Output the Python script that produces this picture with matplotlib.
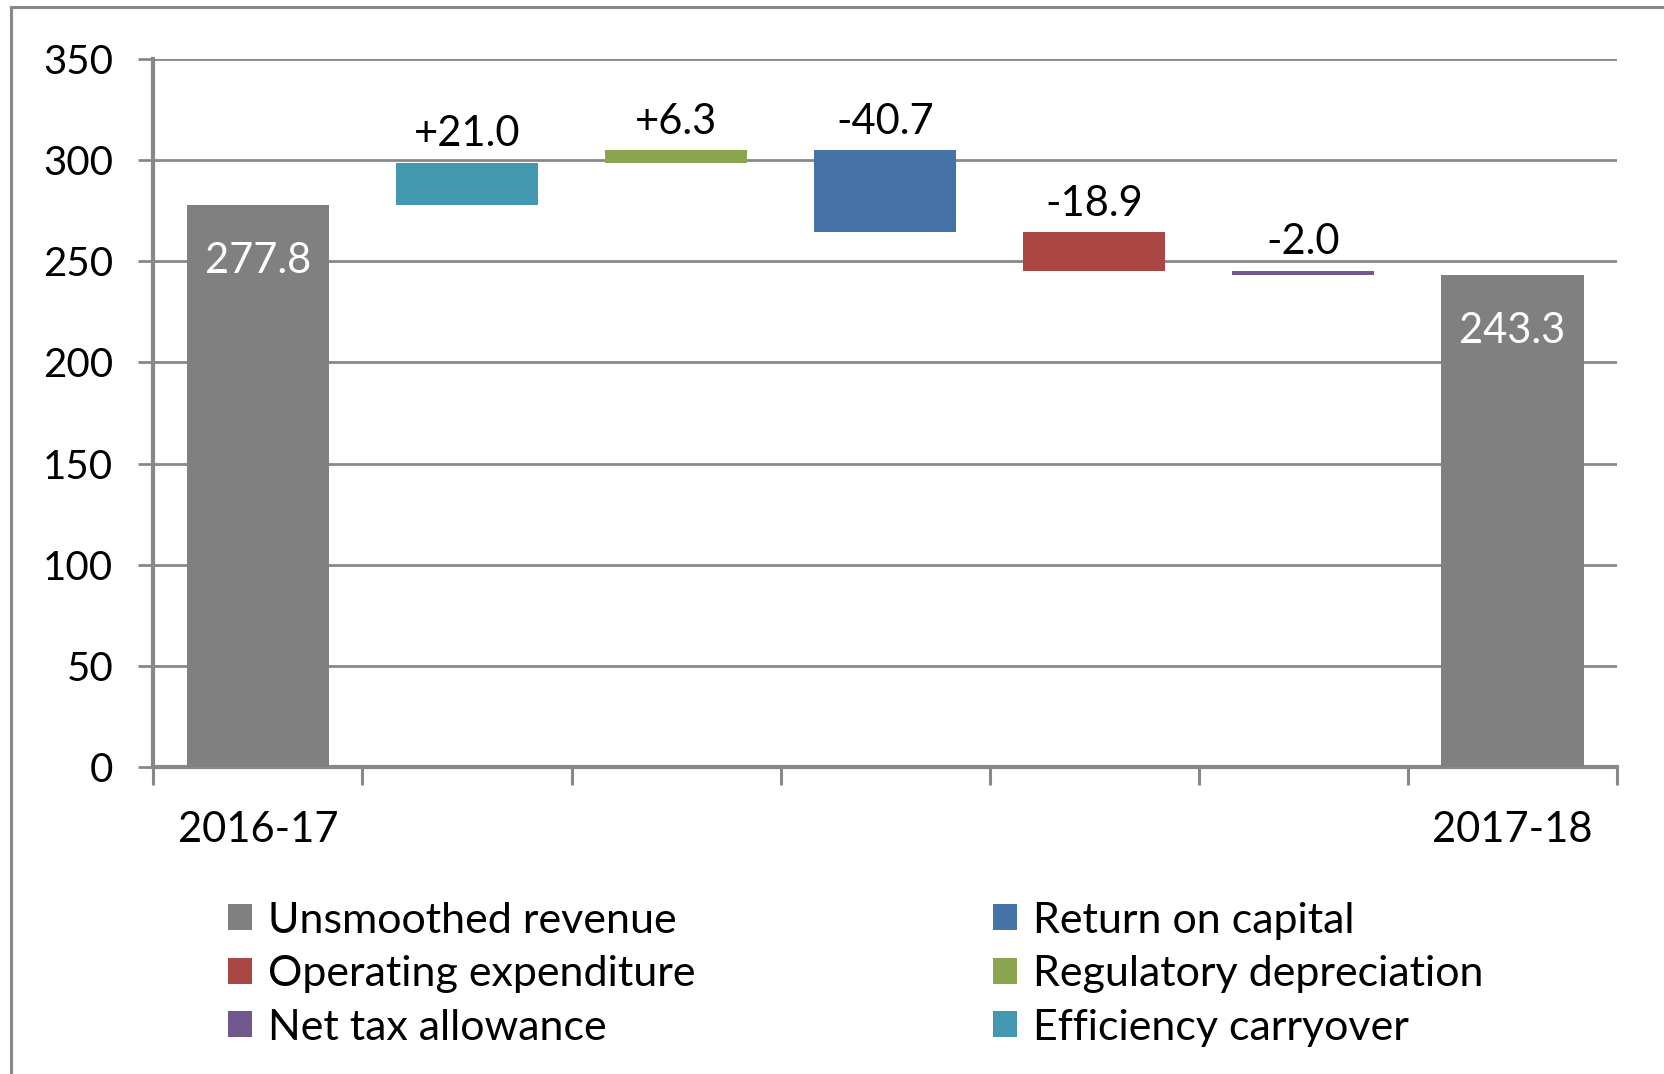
import numpy as np
import matplotlib
matplotlib.use('Agg')
import matplotlib.pyplot as plt
from matplotlib.patches import Patch
from matplotlib.lines import Line2D

plt.rcParams['font.family'] = ['Lato', 'DejaVu Sans']

## values
x_labels = ['2016-17', '', '', '', '', '', '2017-18']
start_value = 277.8
end_value = 243.3
total_name = 'Unsmoothed revenue'
step_names = ['Efficiency carryover', 'Regulatory depreciation', 'Return on capital',
              'Operating expenditure', 'Net tax allowance']
step_values = [21.0, 6.3, -40.7, -18.9, -2.0]
y_ticks = [0, 50, 100, 150, 200, 250, 300, 350]

## colours (excel 2007 palette)
total_color = '#808080'
step_colors = ['#4198AF', '#89A54E', '#4572A7', '#AA4643', '#71588F']
grid_col = '#888888'
legend_order = ['Unsmoothed revenue', 'Return on capital', 'Operating expenditure',
                'Regulatory depreciation', 'Net tax allowance', 'Efficiency carryover']

# ====================================================================
fig = plt.figure(figsize=(16.65, 10.74), dpi=100)
ax = fig.add_axes([0.0921, 0.2861, 0.9712 - 0.0921, 0.9448 - 0.2861])

bar_w = 0.68
n = len(x_labels)
xs = np.arange(n)

##start and end totals
ax.bar([xs[0], xs[-1]], [start_value, end_value], width=bar_w, color=total_color, zorder=3)
for xx, vv in [(xs[0], start_value), (xs[-1], end_value)]:
    ax.annotate('%.1f' % vv, (xx, vv), xytext=(0, -40), textcoords='offset points',
                ha='center', va='center', fontsize=30, color='white', zorder=4)

##floating steps
level = start_value
for i, (v, c) in enumerate(zip(step_values, step_colors)):
    lo = min(level, level + v)
    ax.bar(xs[i + 1], abs(v), bottom=lo, width=bar_w, color=c, zorder=3)
    ax.annotate('%+.1f' % v, (xs[i + 1], max(level, level + v)), xytext=(0, 20.5),
                textcoords='offset points', ha='center', va='center', fontsize=30)
    level += v

# ====================================================================
##axes styling
ax.set_xlim(-0.5, n - 0.5)
ax.set_ylim(0, 350)
ax.set_yticks(y_ticks)
ax.yaxis.grid(True, color=grid_col, lw=2)
ax.set_axisbelow(True)
for s in ['top', 'right']:
    ax.spines[s].set_visible(False)
for s in ['left', 'bottom']:
    ax.spines[s].set_color(grid_col)
    ax.spines[s].set_linewidth(3)

ax.set_xticks(xs, x_labels)
ax.set_xticks(np.arange(-0.5, n, 1), minor=True)
ax.tick_params(axis='x', which='major', length=0, pad=32, labelsize=30)
ax.tick_params(axis='x', which='minor', length=13, width=2.2, color=grid_col)
ax.tick_params(axis='y', length=11, width=2, color=grid_col, pad=18, labelsize=29)

##legend, two columns placed separately
color_map = dict(zip(step_names, step_colors))
color_map[total_name] = total_color
handles = [Patch(facecolor=color_map[nm], edgecolor='none') for nm in legend_order]
col_x = [228 / 1665, 993 / 1665]
for k in range(2):
    hh = handles[k::2]
    ll = legend_order[k::2]
    fig.legend(hh, ll, loc='upper left', bbox_to_anchor=(col_x[k], 0.1605),
               frameon=False, fontsize=31, handlelength=0.55, handleheight=0.55,
               handletextpad=0.38, labelspacing=0.36, borderpad=0, borderaxespad=0)

##outer frame (left and top only, rest cropped)
fx = 11 / 1665
fy = 1 - 7 / 1074
fig.add_artist(Line2D([fx, fx], [0, fy], transform=fig.transFigure, color=grid_col, lw=2.2))
fig.add_artist(Line2D([fx, 1], [fy, fy], transform=fig.transFigure, color=grid_col, lw=2.2))

fig.savefig('out.png', dpi=100)
plt.close()
